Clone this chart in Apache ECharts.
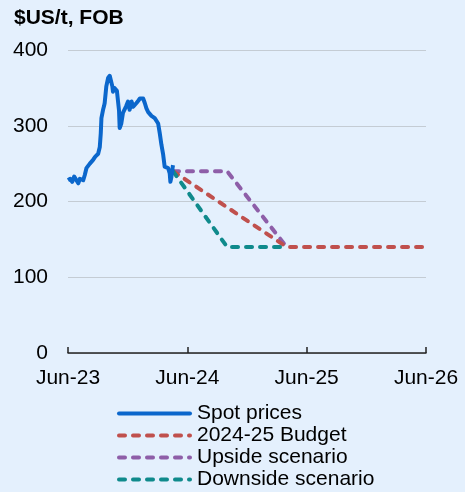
<!DOCTYPE html>
<html>
<head>
<meta charset="utf-8">
<script src="https://cdn.jsdelivr.net/npm/echarts@6/dist/echarts.min.js"></script>
<style>
  html, body { margin: 0; padding: 0; background: #e4f0fd; }
  #chart { width: 465px; height: 492px; }
</style>
</head>
<body>
<div id="chart"></div>
<script>
// tick labels on the x axis (months since Jun-23: 0, 12, 24, 36)
const xTickLabels = ['Jun-23', 'Jun-24', 'Jun-25', 'Jun-26']

// spot prices
const spotDates = [
  '2023-06-01', '2023-06-08', '2023-06-14', '2023-06-20', '2023-06-26', '2023-07-02', '2023-07-07',
  '2023-07-12', '2023-07-17', '2023-07-22', '2023-07-27', '2023-08-02', '2023-08-07', '2023-08-12',
  '2023-08-17', '2023-08-23', '2023-08-28', '2023-09-02', '2023-09-07', '2023-09-10', '2023-09-12',
  '2023-09-17', '2023-09-20', '2023-09-22', '2023-09-27', '2023-10-02', '2023-10-07', '2023-10-12',
  '2023-10-15', '2023-10-17', '2023-10-21', '2023-10-25', '2023-10-29', '2023-11-02', '2023-11-05',
  '2023-11-07', '2023-11-12', '2023-11-17', '2023-11-22', '2023-11-27', '2023-12-02', '2023-12-07',
  '2023-12-13', '2023-12-18', '2023-12-23', '2023-12-28', '2024-01-03', '2024-01-08', '2024-01-13',
  '2024-01-18', '2024-01-23', '2024-01-28', '2024-02-03', '2024-02-08', '2024-02-13', '2024-02-18',
  '2024-02-23', '2024-02-28', '2024-03-03', '2024-03-08', '2024-03-13', '2024-03-18', '2024-03-23',
  '2024-03-28', '2024-04-03', '2024-04-06', '2024-04-08', '2024-04-10', '2024-04-13', '2024-04-16',
  '2024-04-18'
]
const spotValues = [
  228, 230, 226, 233, 235, 224, 230,
  231, 228, 235, 244, 245, 250, 252,
  255, 259, 261, 263, 272, 290, 310,
  321, 326, 330, 352, 363, 366, 365,
  352, 345, 350, 350, 346, 345, 320,
  297, 303, 317, 318, 326, 332, 321,
  332, 325, 327, 330, 333, 336, 336,
  336, 330, 323, 318, 316, 313, 312,
  310, 308, 303, 290, 275, 263, 246,
  246, 244, 240, 237, 226, 232, 242,
  248
]

// scenarios
const budgetDates = ['2024-04-18', '2025-03-31', '2026-06-01']
const budgetValues = [240, 140, 140]
const upsideDates = ['2024-04-18', '2024-10-01', '2025-03-31']
const upsideValues = [240, 240, 140]
const downsideDates = ['2024-04-18', '2024-10-01', '2025-03-31']
const downsideValues = [240, 140, 140]

// months since 1 Jun 2023
function toMonths(s) {
  const p = s.split('-').map(Number)
  return (p[0] - 2023) * 12 + (p[1] - 6) + (p[2] - 1) / 30.5
}
function pairs(dates, values) {
  return dates.map((d, i) => [toMonths(d), values[i]])
}

const font = 'Liberation Sans, Arial, sans-serif'
const dash = {type: [6, 8], width: 4, cap: 'round'}

const option = {
  backgroundColor: '#e4f0fd',
  animation: false,
  title: {
    text: '$US/t, FOB',
    left: 9,
    top: 3,
    textStyle: {fontFamily: font, fontSize: 21, fontWeight: 'bold', color: '#000'}
  },
  legend: {
    orient: 'vertical',
    left: 117,
    top: 403,
    height: 100,
    padding: 0,
    itemWidth: 71,
    itemHeight: 14,
    itemGap: 1,
    itemStyle: {opacity: 0},
    lineStyle: {width: 4, cap: 'round'},
    textStyle: {fontFamily: font, fontSize: 21, color: '#000', padding: [0, 0, 0, 2]},
    data: ['Spot prices', '2024-25 Budget', 'Upside scenario', 'Downside scenario']
  },
  grid: {left: 68, right: 39, top: 50, bottom: 139},
  xAxis: {
    type: 'value',
    min: 0,
    max: 36,
    interval: 12,
    axisLine: {show: true, lineStyle: {color: '#222', width: 1.5}},
    axisTick: {show: true, inside: true, length: 6, lineStyle: {color: '#222', width: 1.5}},
    splitLine: {show: false},
    axisLabel: {
      fontFamily: font, fontSize: 21, color: '#000', margin: 15,
      formatter: v => xTickLabels[Math.round(v / 12)]
    }
  },
  yAxis: {
    type: 'value',
    min: 0,
    max: 400,
    interval: 100,
    axisLine: {show: false},
    axisTick: {show: false},
    splitLine: {lineStyle: {color: '#c4ccd4', width: 1}},
    axisLabel: {fontFamily: font, fontSize: 21, color: '#000', margin: 20}
  },
  series: [
    {
      name: 'Spot prices', type: 'line', symbol: 'none', z: 5,
      data: pairs(spotDates, spotValues),
      lineStyle: {color: '#0b67cc', width: 4, join: 'round'},
      itemStyle: {color: '#0b67cc'}
    },
    {
      name: '2024-25 Budget', type: 'line', symbol: 'none', z: 3,
      data: pairs(budgetDates, budgetValues),
      lineStyle: Object.assign({color: '#c0504d'}, dash),
      itemStyle: {color: '#c0504d'}
    },
    {
      name: 'Upside scenario', type: 'line', symbol: 'none', z: 2,
      data: pairs(upsideDates, upsideValues),
      lineStyle: Object.assign({color: '#8e5ea8'}, dash),
      itemStyle: {color: '#8e5ea8'}
    },
    {
      name: 'Downside scenario', type: 'line', symbol: 'none', z: 4,
      data: pairs(downsideDates, downsideValues),
      lineStyle: Object.assign({color: '#0f8a8c'}, dash),
      itemStyle: {color: '#0f8a8c'}
    }
  ]
}

const chart = echarts.init(document.getElementById('chart'))
chart.setOption(option)
</script>
</body>
</html>
